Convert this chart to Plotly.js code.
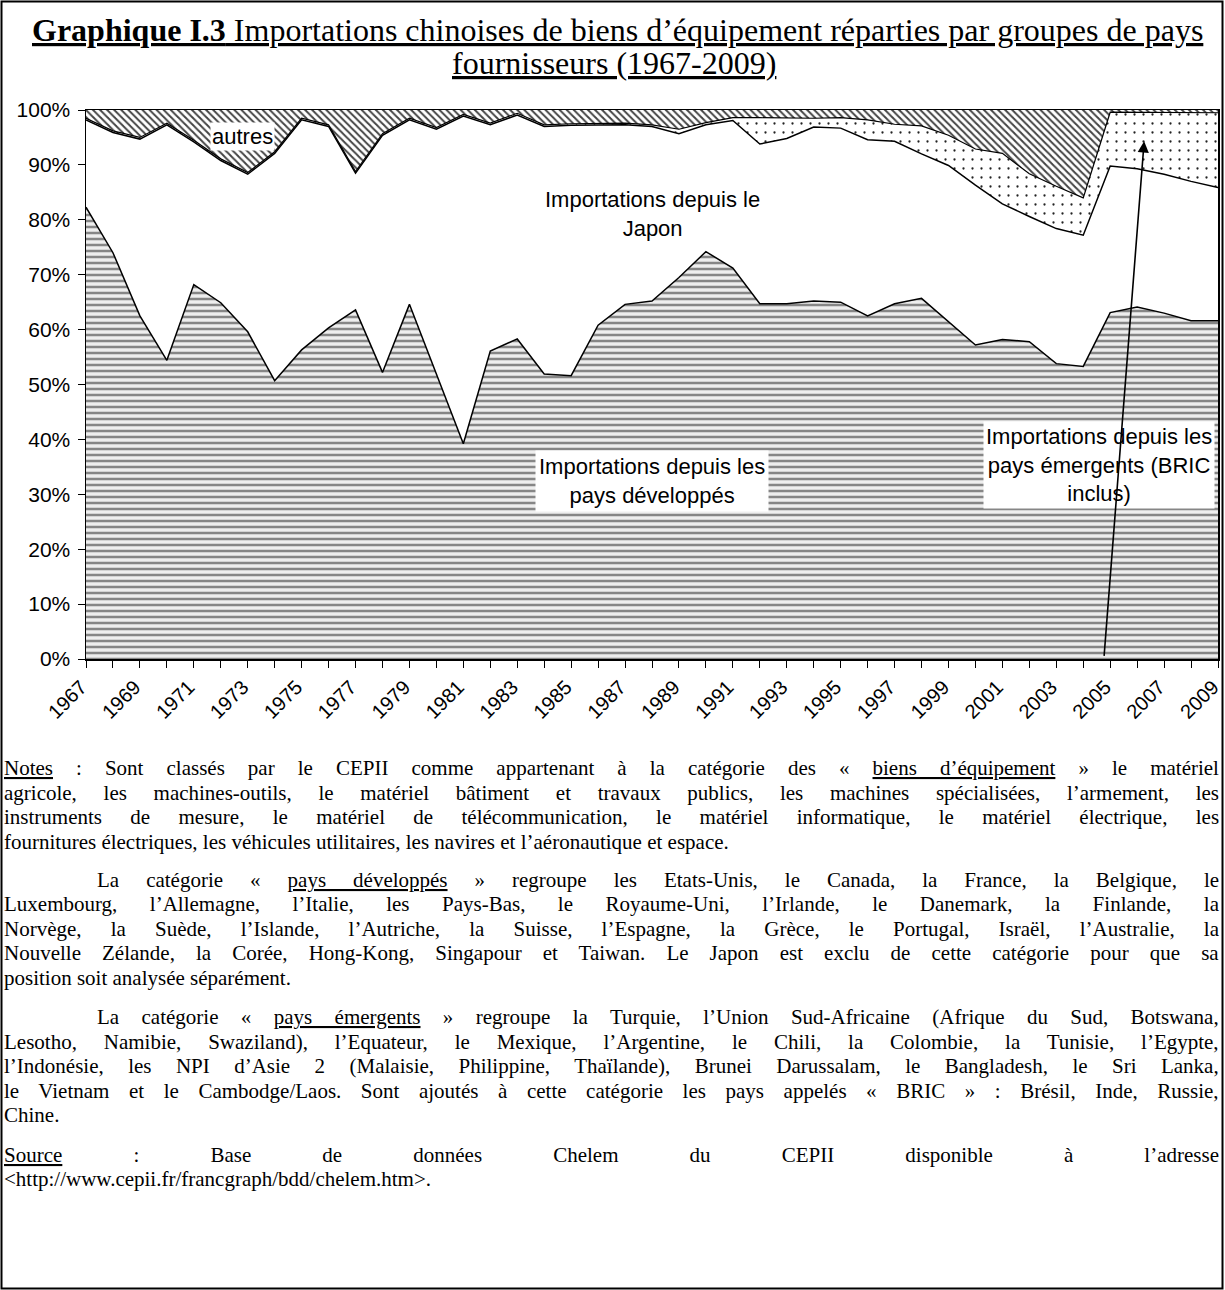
<!DOCTYPE html>
<html><head><meta charset="utf-8">
<script src="https://cdn.plot.ly/plotly-3.0.1.min.js"></script>
<style>html,body{margin:0;padding:0;background:#fff}#chart{width:1225px;height:1290px}</style>
</head><body><div id="chart"></div>
<script>
const years = [1967,1968,1969,1970,1971,1972,1973,1974,1975,1976,1977,1978,1979,1980,1981,1982,1983,1984,1985,1986,1987,1988,1989,1990,1991,1992,1993,1994,1995,1996,1997,1998,1999,2000,2001,2002,2003,2004,2005,2006,2007,2008,2009];
const tickYears = [1967,1969,1971,1973,1975,1977,1979,1981,1983,1985,1987,1989,1991,1993,1995,1997,1999,2001,2003,2005,2007,2009];
const developpes = [82.3,74.0,62.5,54.4,68.2,64.9,59.6,50.7,56.3,60.3,63.6,52.2,64.6,52.0,39.2,56.1,58.3,51.9,51.6,60.8,64.6,65.2,69.5,74.2,71.2,64.7,64.7,65.2,65.0,62.5,64.7,65.7,61.5,57.2,58.2,57.8,53.8,53.3,63.1,64.1,63.0,61.6,61.6];
const japon = [15.9,21.9,32.2,42.9,26.0,25.9,28.7,41.4,41.9,36.7,24.9,43.2,33.6,44.5,59.7,41.2,40.8,45.1,45.6,36.5,32.7,31.8,26.2,23.1,26.9,29.1,30.1,31.7,31.7,32.1,29.6,26.3,28.4,29.1,24.7,22.8,24.6,23.9,26.7,25.2,25.3,25.4,24.3];
const emergents = [0.3,0.3,0.3,0.3,0.3,0.3,0.3,0.3,0.3,0.3,0.3,0.3,0.3,0.3,0.3,0.3,0.3,0.3,0.3,0.3,0.3,0.3,0.8,0.4,0.5,4.8,3.7,1.6,1.9,3.6,3.1,5.1,5.5,6.6,9.2,7.8,7.7,6.8,9.8,10.3,11.3,12.5,13.6];
const autres = [1.5,3.8,5.0,2.4,5.5,8.9,11.4,7.6,1.5,2.7,11.2,4.3,1.5,3.2,0.8,2.4,0.6,2.7,2.5,2.4,2.4,2.7,3.5,2.3,1.4,1.4,1.5,1.5,1.4,1.8,2.6,2.9,4.6,7.1,7.9,11.6,13.9,16.0,0.4,0.4,0.4,0.5,0.5];

const titleBold = 'Graphique I.3';
const titleLine1 = ' Importations chinoises de biens d\u2019équipement réparties par groupes de pays';
const titleLine2 = 'fournisseurs (1967-2009)';
const labelAutres = 'autres';
const labelJapon = 'Importations depuis le<br>Japon';
const labelDev = 'Importations depuis les<br>pays développés';
const labelEm = 'Importations depuis les<br>pays émergents (BRIC<br>inclus)';

const notes = [
  {y:768, ind:false, j:true, parts:[['Notes',1],[' : Sont classés par le CEPII comme appartenant à la catégorie des « ',0],['biens d\u2019équipement',1],[' » le matériel',0]]},
  {y:792.5, ind:false, j:true, parts:[['agricole, les machines-outils, le matériel bâtiment et travaux publics, les machines spécialisées, l\u2019armement, les',0]]},
  {y:817, ind:false, j:true, parts:[['instruments de mesure, le matériel de télécommunication, le matériel informatique, le matériel électrique, les',0]]},
  {y:841.5, ind:false, j:false, parts:[['fournitures électriques, les véhicules utilitaires, les navires et l\u2019aéronautique et espace.',0]]},
  {y:880, ind:true, j:true, parts:[['La catégorie « ',0],['pays développés',1],[' » regroupe les Etats-Unis, le Canada, la France, la Belgique, le',0]]},
  {y:904.5, ind:false, j:true, parts:[['Luxembourg, l\u2019Allemagne, l\u2019Italie, les Pays-Bas, le Royaume-Uni, l\u2019Irlande, le Danemark, la Finlande, la',0]]},
  {y:929, ind:false, j:true, parts:[['Norvège, la Suède, l\u2019Islande, l\u2019Autriche, la Suisse, l\u2019Espagne, la Grèce, le Portugal, Israël, l\u2019Australie, la',0]]},
  {y:953.5, ind:false, j:true, parts:[['Nouvelle Zélande, la Corée, Hong-Kong, Singapour et Taiwan. Le Japon est exclu de cette catégorie pour que sa',0]]},
  {y:978, ind:false, j:false, parts:[['position soit analysée séparément.',0]]},
  {y:1017, ind:true, j:true, parts:[['La catégorie « ',0],['pays émergents',1],[' » regroupe la Turquie, l\u2019Union Sud-Africaine (Afrique du Sud, Botswana,',0]]},
  {y:1041.5, ind:false, j:true, parts:[['Lesotho, Namibie, Swaziland), l\u2019Equateur, le Mexique, l\u2019Argentine, le Chili, la Colombie, la Tunisie, l\u2019Egypte,',0]]},
  {y:1066, ind:false, j:true, parts:[['l\u2019Indonésie, les NPI d\u2019Asie 2 (Malaisie, Philippine, Thaïlande), Brunei Darussalam, le Bangladesh, le Sri Lanka,',0]]},
  {y:1090.5, ind:false, j:true, parts:[['le Vietnam et le Cambodge/Laos. Sont ajoutés à cette catégorie les pays appelés « BRIC » : Brésil, Inde, Russie,',0]]},
  {y:1115, ind:false, j:false, parts:[['Chine.',0]]},
  {y:1154.5, ind:false, j:true, parts:[['Source',1],[' : Base de données Chelem du CEPII disponible à l\u2019adresse',0]]},
  {y:1179, ind:false, j:false, parts:[['<http://www.cepii.fr/francgraph/bdd/chelem.htm>.',0]]}
];

const W = 1225, H = 1290, ML = 86, MR = 7, MT = 110, MB = 631;
const PW = W - ML - MR, PH = H - MT - MB;
const px = x => (x - ML) / PW;
const py = y => (H - MB - y) / PH;

const SERIF = 'Liberation Serif';
const NOTE_SIZE = 21;
const cv = document.createElement('canvas').getContext('2d');
const esc = s => s.replace(/&/g,'&amp;').replace(/</g,'&lt;').replace(/>/g,'&gt;');

function buildLine(n) {
  const x0 = n.ind ? 98 : 5, x1 = 1220;
  const plain = n.parts.map(p => p[0]).join('');
  let ws = 0;
  if (n.j) {
    cv.font = NOTE_SIZE + 'px "' + SERIF + '"';
    const w = cv.measureText(plain).width;
    const spaces = (plain.match(/ /g) || []).length;
    ws = spaces ? (x1 - x0 - w) / spaces : 0;
  }
  const html = n.parts.map(p => '<span style="word-spacing:' + ws.toFixed(2) + 'px' + (p[1] ? ';text-decoration:underline' : '') + '">' + esc(p[0]) + '</span>').join('');
  return {x: px(x0 - 3), y: py(n.y), xref: 'paper', yref: 'paper', xanchor: 'left', yanchor: 'middle',
          showarrow: false, text: html, font: {family: SERIF, size: NOTE_SIZE, color: '#000'}};
}

cv.font = 'bold 26px "' + SERIF + '"';
const wb = cv.measureText(titleBold).width;
cv.font = '26px "' + SERIF + '"';
const wr = cv.measureText(titleLine1).width;
const TITLE_SIZE = Math.min(32, 26 * 1175 / (wb + wr));
const titleFont = {family: SERIF, size: TITLE_SIZE, color: '#000', lineposition: 'under'};

const lineStyle = {color: '#000', width: 1.5};
const traces = [
  {x: years, y: developpes, name: 'pays développés', type: 'scatter', mode: 'lines', stackgroup: 'one',
   line: lineStyle, fillcolor: '#e4e4e4',
   fillpattern: {shape: '-', fgcolor: '#868686', bgcolor: '#eeeeee', size: 6, solidity: 0.42}},
  {x: years, y: japon, name: 'Japon', type: 'scatter', mode: 'lines', stackgroup: 'one',
   line: lineStyle, fillcolor: '#ffffff'},
  {x: years, y: emergents, name: 'pays émergents', type: 'scatter', mode: 'lines', stackgroup: 'one',
   line: {color: '#000', width: 1.2},
   fillpattern: {shape: '.', fgcolor: '#222', bgcolor: '#ffffff', size: 9, solidity: 0.05}},
  {x: years, y: autres, name: 'autres', type: 'scatter', mode: 'lines', stackgroup: 'one',
   line: {color: '#000', width: 0},
   fillpattern: {shape: '\\', fgcolor: '#444', bgcolor: '#ffffff', size: 5, solidity: 0.4}}
];

const chartFont = {family: 'Liberation Sans, Arial', size: 22, color: '#000'};
const annotations = [
  {xref: 'paper', yref: 'paper', x: px(617), y: py(30), xanchor: 'center', yanchor: 'middle', showarrow: false,
   text: '<b>' + titleBold + '</b>' + titleLine1, font: titleFont},
  {xref: 'paper', yref: 'paper', x: px(614), y: py(63), xanchor: 'center', yanchor: 'middle', showarrow: false,
   text: titleLine2, font: titleFont},
  {x: 1972.8, y: 95.1, text: labelAutres, showarrow: false, bgcolor: '#fff', font: chartFont, borderpad: 1},
  {x: 1988.0, y: 81.0, text: labelJapon, showarrow: false, font: chartFont},
  {x: 1988.0, y: 32.5, text: labelDev, showarrow: false, bgcolor: '#fff', font: chartFont, borderpad: 3},
  {x: 2004.6, y: 35.4, text: labelEm, showarrow: false, bgcolor: '#fff', font: chartFont, borderpad: 2},
  {x: 2006.26, y: 94.3, ax: 2004.77, ay: 0.3, axref: 'x', ayref: 'y', text: '', showarrow: true,
   arrowhead: 2, arrowsize: 1.4, arrowwidth: 1.6, arrowcolor: '#000', standoff: 0}
].concat(notes.map(buildLine));

const shapes = [
  {type: 'rect', xref: 'paper', yref: 'paper', x0: px(1.5), x1: px(1222.5), y0: py(1288.5), y1: py(1.5),
   line: {color: '#000', width: 2}, fillcolor: 'rgba(0,0,0,0)'}
];

const layout = {
  width: W, height: H,
  margin: {l: ML, r: MR, t: MT, b: MB},
  paper_bgcolor: '#fff', plot_bgcolor: '#fff',
  showlegend: false,
  xaxis: {range: [1967, 2009], tickmode: 'array', tickvals: tickYears, ticktext: tickYears.map(String),
          ticks: 'outside', ticklen: 7, tickwidth: 1, tickcolor: '#000',
          tickangle: -45, tickfont: {family: 'Liberation Sans, Arial', size: 20, color: '#000'},
          ticklabeloverflow: 'allow', ticklabelshift: -5,
          showline: true, linecolor: '#000', linewidth: 1.5, mirror: true, showgrid: false, zeroline: false,
          minor: {dtick: 1, tick0: 1967, ticks: 'outside', ticklen: 7, tickwidth: 1, tickcolor: '#000', showgrid: false}},
  yaxis: {range: [0, 100], dtick: 10, ticksuffix: '%', ticks: 'outside', ticklen: 7, tickwidth: 1, tickcolor: '#000',
          tickfont: {family: 'Liberation Sans, Arial', size: 21, color: '#000'}, ticklabelstandoff: 3,
          showline: true, linecolor: '#000', linewidth: 1.5, mirror: true, showgrid: false, zeroline: false},
  annotations: annotations,
  shapes: shapes
};

Plotly.newPlot('chart', traces, layout, {staticPlot: true, displayModeBar: false});
</script>
</body></html>
